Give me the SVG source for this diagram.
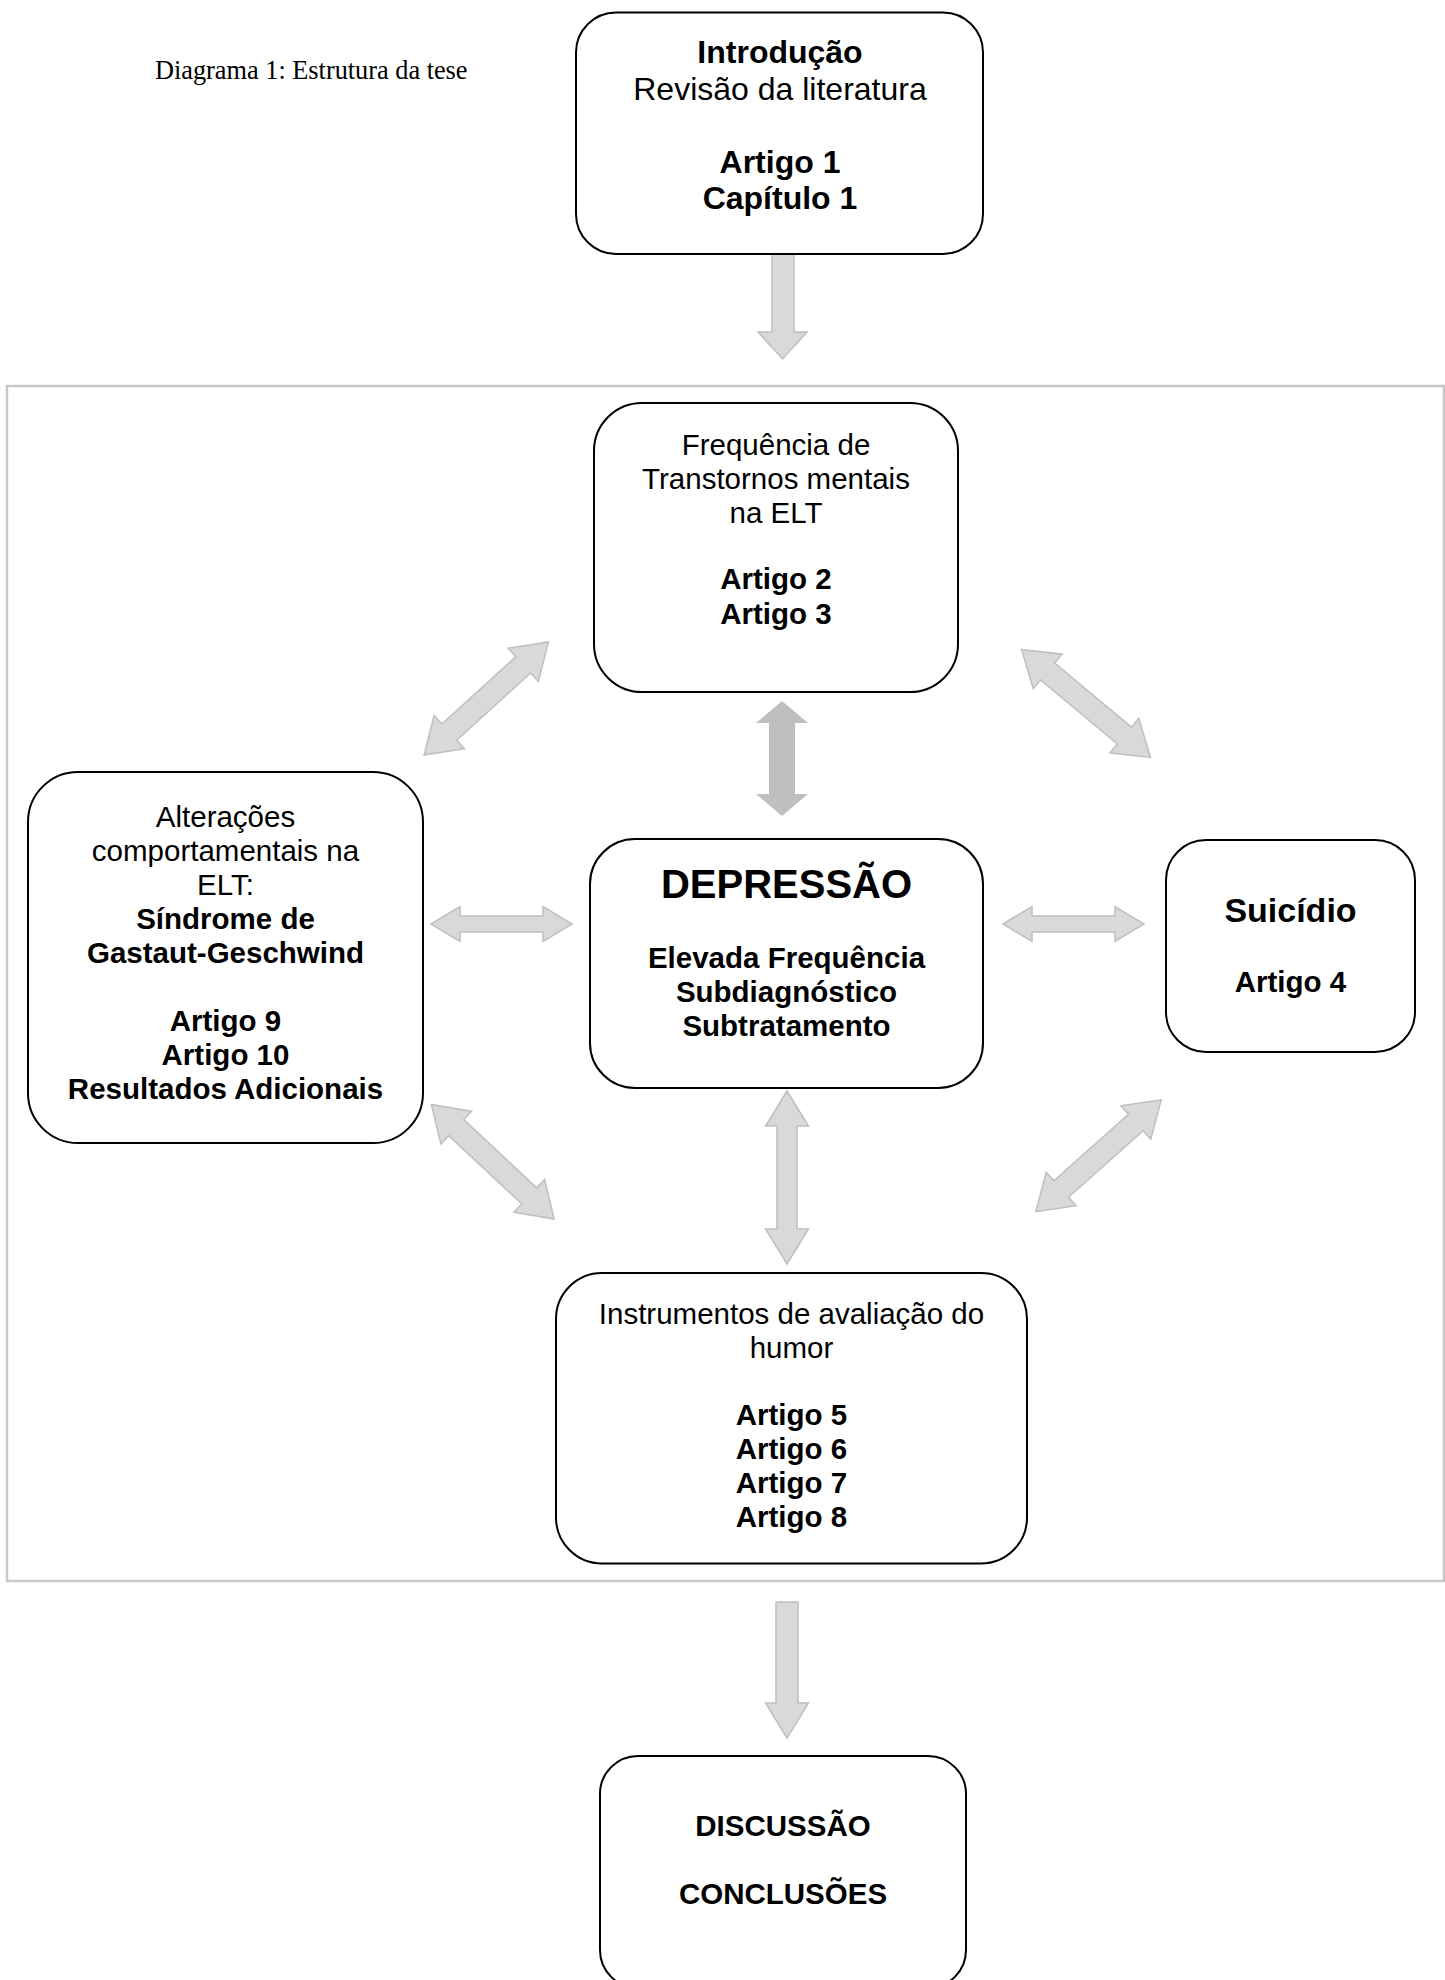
<svg xmlns="http://www.w3.org/2000/svg" width="1445" height="1980" viewBox="0 0 1445 1980">
<style>
.box{fill:#fff;stroke:#000;stroke-width:2}
.t{font-family:"Liberation Sans",Arial,sans-serif;font-size:29.5px;text-anchor:middle;fill:#000}
.b{font-weight:bold}
.big{font-size:32px}
.dep{font-size:40px}
.sui{font-size:34px}
.arr{fill:#d9d9d9;stroke:#bfbfbf;stroke-width:1.5}
.dark{fill:#bfbfbf;stroke:none}
.frame{fill:none;stroke:#c8c8c8;stroke-width:2.5}
</style>
<defs>
<polygon id="diag" points="-84,0 -50,-22.5 -50,-11 50,-11 50,-22.5 84,0 50,22.5 50,11 -50,11 -50,22.5"/>
<polygon id="horiz" points="-70.5,0 -41.5,-17.5 -41.5,-8 41.5,-8 41.5,-17.5 70.5,0 41.5,17.5 41.5,8 -41.5,8 -41.5,17.5"/>
</defs>
<rect class="frame" x="7" y="386" width="1437" height="1195"/>
<text x="155" y="79" font-family="'Liberation Serif','Times New Roman',serif" font-size="26.3" fill="#000">Diagrama 1: Estrutura da tese</text>
<g id="connectors">
<polygon class="arr" points="772,254 794,254 794,332 807,332 782.5,359 758,332 772,332"/>
<use href="#diag" class="arr" transform="translate(486.25,698.5) rotate(-42.25)"/>
<use href="#diag" class="arr" transform="translate(1086,703.5) rotate(39.9)"/>
<use href="#diag" class="arr" transform="translate(492.75,1161.75) rotate(43.07)"/>
<use href="#diag" class="arr" transform="translate(1098.5,1155.75) rotate(-41.7)"/>
<use href="#horiz" class="arr" transform="translate(501.5,924)"/>
<use href="#horiz" class="arr" transform="translate(1073.5,924)"/>
<polygon class="dark" points="782,701 808,723 795,723 795,794 808,794 782,816 756,794 769,794 769,723 756,723"/>
<polygon class="arr" points="787,1091 808.5,1126 797,1126 797,1229 808.5,1229 787,1264 765.5,1229 777,1229 777,1126 765.5,1126"/>
<polygon class="arr" points="776,1602 798,1602 798,1703 808.5,1703 787,1738 765.5,1703 776,1703"/>
</g>
<g id="intro">
<rect class="box" x="576" y="12.5" width="407" height="241.5" rx="40"/>
<text class="t b big" x="780" y="63">Introdução</text>
<text class="t big" x="780" y="99.5">Revisão da literatura</text>
<text class="t b big" x="780" y="172.5">Artigo 1</text>
<text class="t b big" x="780" y="209">Capítulo 1</text>
</g>
<g id="frequencia">
<rect class="box" x="594" y="403" width="364" height="289" rx="48"/>
<text class="t" x="776" y="455">Frequência de</text>
<text class="t" x="776" y="489">Transtornos mentais</text>
<text class="t" x="776" y="523">na ELT</text>
<text class="t b" x="776" y="589">Artigo 2</text>
<text class="t b" x="776" y="624">Artigo 3</text>
</g>
<g id="alteracoes">
<rect class="box" x="28" y="772" width="395" height="371" rx="50"/>
<text class="t" x="225.5" y="827">Alterações</text>
<text class="t" x="225.5" y="861">comportamentais na</text>
<text class="t" x="225.5" y="895">ELT:</text>
<text class="t b" x="225.5" y="929">Síndrome de</text>
<text class="t b" x="225.5" y="963">Gastaut-Geschwind</text>
<text class="t b" x="225.5" y="1031">Artigo 9</text>
<text class="t b" x="225.5" y="1065">Artigo 10</text>
<text class="t b" x="225.5" y="1099">Resultados Adicionais</text>
</g>
<g id="depressao">
<rect class="box" x="590" y="839" width="393" height="249" rx="45"/>
<text class="t b dep" x="786.5" y="898">DEPRESSÃO</text>
<text class="t b" x="786.5" y="968">Elevada Frequência</text>
<text class="t b" x="786.5" y="1002">Subdiagnóstico</text>
<text class="t b" x="786.5" y="1036">Subtratamento</text>
</g>
<g id="suicidio">
<rect class="box" x="1166" y="840" width="249" height="212" rx="40"/>
<text class="t b sui" x="1290.5" y="922">Suicídio</text>
<text class="t b" x="1290.5" y="992">Artigo 4</text>
</g>
<g id="instrumentos">
<rect class="box" x="556" y="1273" width="471" height="290.5" rx="46"/>
<text class="t" x="791.5" y="1324">Instrumentos de avaliação do</text>
<text class="t" x="791.5" y="1358">humor</text>
<text class="t b" x="791.5" y="1425">Artigo 5</text>
<text class="t b" x="791.5" y="1459">Artigo 6</text>
<text class="t b" x="791.5" y="1493">Artigo 7</text>
<text class="t b" x="791.5" y="1527">Artigo 8</text>
</g>
<g id="discussao">
<rect class="box" x="600" y="1756" width="366" height="232" rx="38"/>
<text class="t b" x="783" y="1836">DISCUSSÃO</text>
<text class="t b" x="783" y="1904">CONCLUSÕES</text>
</g>
</svg>
